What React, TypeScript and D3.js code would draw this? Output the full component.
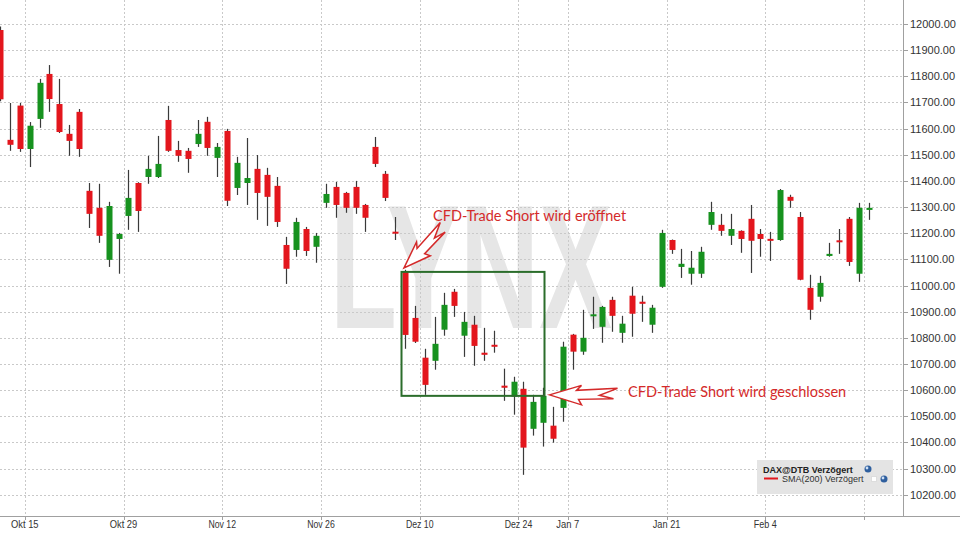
import React from "react";
import * as d3 from "d3";

const dates: string[] = [
  "2018-10-10","2018-10-11","2018-10-12","2018-10-15","2018-10-16","2018-10-17","2018-10-18","2018-10-19",
  "2018-10-22","2018-10-23","2018-10-24","2018-10-25","2018-10-26","2018-10-29","2018-10-30","2018-10-31",
  "2018-11-01","2018-11-02","2018-11-05","2018-11-06","2018-11-07","2018-11-08","2018-11-09","2018-11-12",
  "2018-11-13","2018-11-14","2018-11-15","2018-11-16","2018-11-19","2018-11-20","2018-11-21","2018-11-22",
  "2018-11-23","2018-11-26","2018-11-27","2018-11-28","2018-11-29","2018-11-30","2018-12-03","2018-12-04",
  "2018-12-05","2018-12-06","2018-12-07","2018-12-10","2018-12-11","2018-12-12","2018-12-13","2018-12-14",
  "2018-12-17","2018-12-18","2018-12-19","2018-12-20","2018-12-21","2018-12-27","2018-12-28","2019-01-02",
  "2019-01-03","2019-01-04","2019-01-07","2019-01-08","2019-01-09","2019-01-10","2019-01-11","2019-01-14",
  "2019-01-15","2019-01-16","2019-01-17","2019-01-18","2019-01-21","2019-01-22","2019-01-23","2019-01-24",
  "2019-01-25","2019-01-28","2019-01-29","2019-01-30","2019-01-31","2019-02-01","2019-02-04","2019-02-05",
  "2019-02-06","2019-02-07","2019-02-08","2019-02-11","2019-02-12","2019-02-13","2019-02-14","2019-02-15",
  "2019-02-18",
];

const open: number[] = [
  11977,11557,11688,11522,11637,11809,11694,11580,11664,11362,11297,11098,11178,11266,11392,11415,
  11415,11633,11518,11515,11541,11626,11488,11591,11373,11392,11446,11423,11381,11155,11136,11216,
  11148,11316,11377,11354,11377,11308,11530,11427,11205,11052,10876,10724,10712,10831,10976,10808,
  10850,10743,10773,10617,10575,10605,10452,10475,10464,10532,10812,10747,10884,10842,10945,10819,
  10961,10938,10850,10995,11174,11071,11045,11045,11232,11232,11190,11209,11255,11197,11178,11174,
  11339,11262,10991,10957,11113,11171,11255,11045,11289,
];
const high: number[] = [
  11990,11698,11698,11625,11790,11843,11790,11614,11675,11392,11389,11320,11201,11442,11395,11496,
  11572,11687,11553,11526,11633,11645,11545,11599,11492,11564,11499,11450,11415,11186,11259,11224,
  11201,11389,11396,11358,11400,11312,11568,11438,11262,11060,10922,10758,10880,10972,10987,10899,
  10884,10838,10827,10682,10651,10632,10582,10609,10536,10785,10815,10907,10957,10922,10957,10884,
  10995,10961,10926,11213,11176,11140,11132,11148,11320,11274,11274,11211,11308,11216,11205,11369,
  11347,11281,11041,11037,11163,11216,11262,11316,11316,
];
const low: number[] = [
  11705,11515,11511,11453,11603,11664,11583,11496,11492,11220,11163,11071,11045,11213,11205,11389,
  11411,11511,11473,11431,11530,11496,11415,11304,11346,11308,11251,11228,11224,11006,11110,11113,
  11087,11297,11259,11278,11274,11205,11453,11323,11174,10758,10780,10582,10678,10808,10880,10727,
  10693,10712,10743,10559,10506,10276,10426,10384,10399,10479,10678,10735,10834,10781,10823,10781,
  10804,10861,10819,10991,11121,11029,11003,11029,11213,11190,11155,11125,11048,11110,11094,11171,
  11297,11020,10869,10938,11110,11121,11075,11014,11251,
];
const close: number[] = [
  11712,11538,11522,11611,11775,11713,11587,11553,11522,11274,11190,11304,11197,11335,11285,11446,
  11465,11515,11496,11484,11580,11526,11530,11324,11469,11411,11354,11339,11243,11064,11243,11132,
  11190,11350,11308,11297,11297,11259,11465,11335,11199,10811,10785,10620,10777,10926,10922,10861,
  10769,10735,10766,10609,10632,10380,10555,10578,10414,10766,10747,10800,10888,10918,10884,10854,
  10892,10930,10915,11201,11136,11083,11068,11129,11281,11209,11216,11178,11171,11178,11171,11365,
  11324,11022,10907,11010,11121,11167,11090,11297,11297,
];

const yTicks: number[] = [10200,10300,10400,10500,10600,10700,10800,10900,11000,11100,11200,11300,11400,11500,11600,11700,11800,11900,12000];
const xTickDates: string[] = ["2018-10-15","2018-10-29","2018-11-12","2018-11-26","2018-12-10","2018-12-24","2019-01-07","2019-01-21","2019-02-04","2019-02-18"];
const xTickLabels: string[] = ["Okt 15","Okt 29","Nov 12","Nov 26","Dez 10","Dez 24","Jan 7","Jan 21","Feb 4",""];

// trade annotation
const tradeOpenDate = "2018-12-06";
const tradeOpenValue = 11052;
const tradeCloseDate = "2019-01-02";
const tradeCloseValue = 10578;
const openText = "CFD-Trade Short wird eröffnet";
const closeText = "CFD-Trade Short wird geschlossen";
const legendTitle = "DAX@DTB Verzögert";
const legendItem = "SMA(200) Verzögert";

const W = 960, H = 540;
const PLOT_R = 903, PLOT_B = 516;
const RED = "#e3161d", GREEN = "#17921f", ANN = "#d42a2a", BOXC = "#2b6d2b";

const arrowShape: [number, number][] = [
  [0, 0], [32, -9.5], [27, -4.5], [68, -6.5], [50, 0.5], [64, 3.8], [29, 4.5], [32, 10],
];

export default function App() {
  const x = d3.scaleBand<string>().domain(dates).range([-4.86, -4.86 + dates.length * 9.874]).padding(0);
  const y = d3.scaleLinear().domain([10200, 12000]).range([494.7, 24]);
  const bw = 6;
  const xc = (d: string) => (x(d) as number) + x.bandwidth() / 2;

  const tickPos = xTickDates.map((t) => {
    const d = dates.find((dd) => dd >= t) as string;
    return x(d) as number;
  });

  const boxL = Math.round(xc(tradeOpenDate)) - bw / 2 - 0.5;
  const boxR = Math.round(xc(tradeCloseDate)) + 1.5;
  const boxT = y(tradeOpenValue);
  const boxB = y(tradeCloseValue);

  const arrowPts = (sx: number) => arrowShape.map(([a, b]) => `${a * sx},${b}`).join(" ");

  return (
    <svg width={W} height={H} style={{ position: "absolute", left: 0, top: 0, background: "#fff" }}
      fontFamily="'Liberation Sans', Arial, sans-serif">
      <rect x={0} y={0} width={W} height={H} fill="#fff" />
      {/* watermark */}
      <text x={330} y={328} fontSize={176} fontWeight="bold" fill="#e6e6e6"
        textLength={282} lengthAdjust="spacingAndGlyphs" fontFamily="'Liberation Sans', Arial, sans-serif">LYNX</text>
      {/* grid */}
      <g stroke="#c9c9c9" strokeWidth={1} strokeDasharray="2,2">
        {yTicks.map((t) => (
          <line key={"h" + t} x1={0} x2={PLOT_R} y1={Math.round(y(t)) + 0.5} y2={Math.round(y(t)) + 0.5} />
        ))}
        {tickPos.map((p, i) => (
          <line key={"v" + i} x1={Math.round(p) + 0.5} x2={Math.round(p) + 0.5} y1={0} y2={PLOT_B} />
        ))}
      </g>
      {/* axes */}
      <line x1={0} x2={W} y1={PLOT_B + 0.5} y2={PLOT_B + 0.5} stroke="#a0a0a0" />
      <line x1={PLOT_R + 0.5} x2={PLOT_R + 0.5} y1={0} y2={PLOT_B} stroke="#a0a0a0" />
      {yTicks.map((t) => (
        <g key={"yl" + t}>
          <line x1={PLOT_R} x2={PLOT_R + 5} y1={Math.round(y(t)) + 0.5} y2={Math.round(y(t)) + 0.5} stroke="#a0a0a0" />
          <text x={910} y={y(t) + 4} fontSize={11} fill="#333">{t.toFixed(2)}</text>
        </g>
      ))}
      {tickPos.map((p, i) => (
        <g key={"xl" + i}>
          <line x1={Math.round(p) + 0.5} x2={Math.round(p) + 0.5} y1={PLOT_B} y2={PLOT_B + 4} stroke="#a0a0a0" />
          <text x={p} y={528} fontSize={11} fill="#333" textAnchor="middle"
            textLength={xTickLabels[i] ? xTickLabels[i].length * 4.6 : undefined}
            lengthAdjust="spacingAndGlyphs">{xTickLabels[i]}</text>
        </g>
      ))}
      {/* candles */}
      <g>
        {dates.map((d, i) => {
          const o = open[i], c = close[i], h = high[i], l = low[i];
          const up = c >= o;
          const cx = Math.round(xc(d));
          const top = y(Math.max(o, c));
          const bot = y(Math.min(o, c));
          const bh = Math.max(2, bot - top);
          return (
            <g key={d}>
              <line x1={cx + 0.5} x2={cx + 0.5} y1={y(h)} y2={y(l)} stroke="#3a3a3a" strokeWidth={1.2} />
              <rect x={cx - bw / 2 + 0.5} y={bh === 2 ? (top + bot) / 2 - 1 : top} width={bw} height={bh}
                fill={up ? GREEN : RED} />
            </g>
          );
        })}
      </g>
      {/* trade box */}
      <rect x={boxL} y={boxT} width={boxR - boxL} height={boxB - boxT} fill="none" stroke={BOXC} strokeWidth={2} />
      {/* arrows */}
      <g transform={`translate(${boxL + 2.5},${boxT - 4}) rotate(-45)`}>
        <polygon points={arrowPts(0.85)} fill="#fff" stroke={ANN} strokeWidth={1.5} strokeLinejoin="miter" />
      </g>
      <g transform={`translate(${boxR + 5},${boxB - 1})`}>
        <polygon points={arrowPts(1)} fill="#fff" stroke={ANN} strokeWidth={1.5} strokeLinejoin="miter" />
      </g>
      <text x={433} y={221} fontSize={14.5} fill={ANN} fontFamily="Lato, 'Open Sans', sans-serif">{openText}</text>
      <text x={628} y={397} fontSize={14.5} fill={ANN} fontFamily="Lato, 'Open Sans', sans-serif">{closeText}</text>
      {/* legend */}
      <g>
        <rect x={757} y={460} width={136} height={34} fill="#e4e4e4" />
        <text x={763} y={472.5} fontSize={9} fontWeight="bold" fill="#222">{legendTitle}</text>
        <circle cx={868} cy={469} r={3.5} fill="#2f5f9e" />
        <circle cx={867} cy={468} r={1.4} fill="#cfe0f5" />
        <line x1={764} x2={778} y1={478.5} y2={478.5} stroke={RED} strokeWidth={2} />
        <text x={782} y={482} fontSize={9} fill="#333">{legendItem}</text>
        <rect x={871.5} y={476.5} width={5} height={5} fill="#fff" stroke="#ddd" />
        <circle cx={884} cy={479} r={3.5} fill="#2f5f9e" />
        <circle cx={883} cy={478} r={1.4} fill="#cfe0f5" />
      </g>
    </svg>
  );
}
